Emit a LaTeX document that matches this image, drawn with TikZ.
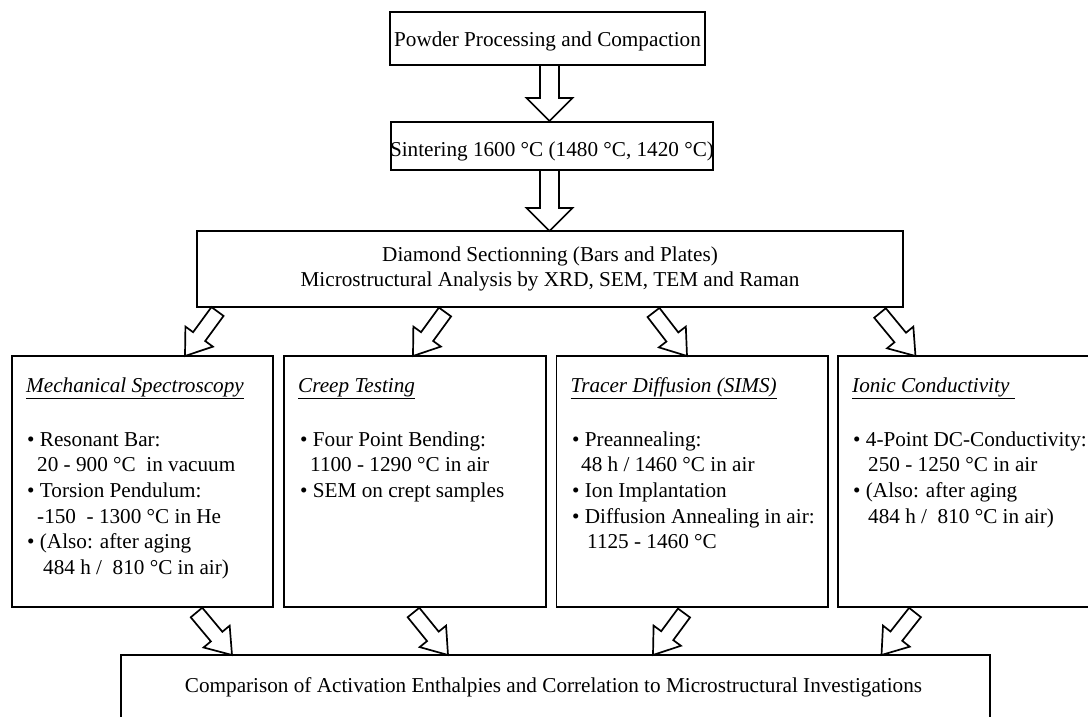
\documentclass[tikz,border=0pt]{standalone}
\usepackage{fontspec}
\setmainfont{Liberation Serif}
\usetikzlibrary{calc}
\tikzset{
  box/.style={draw, line width=1.8pt, fill=white, inner sep=0pt},
  txt/.style={anchor=base west, inner sep=0pt, font=\fontsize{21.2}{25.7}\selectfont},
  ctxt/.style={anchor=base, inner sep=0pt, font=\fontsize{21.2}{25.7}\selectfont},
  barrow/.style={draw, line width=1.7pt, fill=white, line join=miter},
}
\newcommand\blockarrow[5]{%
  \path ($(#2)!#5!(#1)$) coordinate (bah);
  \draw[barrow] ($(#1)!#3!90:(#2)$) -- ($(bah)!#3!90:(#2)$) -- ($(bah)!#4!90:(#2)$) -- (#2)
     -- ($(bah)!#4!-90:(#2)$) -- ($(bah)!#3!-90:(#2)$) -- ($(#1)!#3!-90:(#2)$) -- cycle;
}
\begin{document}
\begin{tikzpicture}[x=1pt,y=-1pt]
\useasboundingbox (0,0) rectangle (1088,717);
\clip (0,0) rectangle (1088,717);
\fill[white] (0,0) rectangle (1088,717);
% boxes
\node[box, minimum width=315pt, minimum height=53pt] (pp) at (547.5,38.5) {};
\node[box, minimum width=322pt, minimum height=48pt] (sint) at (552,146) {};
\node[box, minimum width=706pt, minimum height=76pt] (diam) at (550,269) {};
\node[box, minimum width=261pt, minimum height=251pt] (mech) at (142.5,481.5) {};
\node[box, minimum width=262pt, minimum height=251pt] (creep) at (415,481.5) {};
\node[box, minimum width=271.5pt, minimum height=251pt] (tracer) at (692.25,481.5) {};
\node[box, minimum width=262pt, minimum height=251pt] (ionic) at (969,481.5) {};
\node[box, minimum width=869pt, minimum height=80pt] (comp) at (555.5,695) {};
% centred texts
\node[ctxt] (ppt) at (547.5,46.7) {Powder Processing and Compaction};
\node[ctxt] (sintt) at (552,156) {Sintering 1600 °C (1480 °C, 1420 °C)};
\node[ctxt] (diamt1) at (550,261) {Diamond Sectionning (Bars and Plates)};
\node[ctxt] (diamt2) at (550,286.5) {Microstructural Analysis by XRD, SEM, TEM and Raman};
\node[ctxt] (compt) at (553.5,692) {Comparison of Activation Enthalpies and Correlation to Microstructural Investigations};
% mechanical spectroscopy
\node[txt] (m0) at (26,392) {\underline{\textit{Mechanical Spectroscopy}}};
\node[txt] (m1) at (27,446) {• Resonant Bar:};
\node[txt] (m2) at (37,471.7) {20 - 900 °C\ \ in vacuum};
\node[txt] (m3) at (27,497.4) {• Torsion Pendulum:};
\node[txt] (m4) at (37,523.1) {-150\ \ - 1300 °C in He};
\node[txt] (m5) at (27,548.8) {• (Also: after aging};
\node[txt] (m6) at (43,574.5) {484 h /\ \ 810 °C in air)};
% creep testing
\node[txt] (c0) at (298,392) {\underline{\textit{Creep Testing}}};
\node[txt] (c1) at (300,446) {• Four Point Bending:};
\node[txt] (c2) at (310,471.7) {1100 - 1290 °C in air};
\node[txt] (c3) at (300,497.4) {• SEM on crept samples};
% tracer diffusion
\node[txt] (t0) at (570.5,392) {\underline{\textit{Tracer Diffusion (SIMS)}}};
\node[txt] (t1) at (572,446) {• Preannealing:};
\node[txt] (t2) at (581,471.7) {48 h / 1460 °C in air};
\node[txt] (t3) at (572,497.4) {• Ion Implantation};
\node[txt] (t4) at (572,523.1) {• Diffusion Annealing in air:};
\node[txt] (t5) at (587,548.8) {1125 - 1460 °C};
% ionic conductivity
\node[txt] (i0) at (852,392) {\underline{\textit{Ionic Conductivity\ }}};
\node[txt] (i1) at (853,446) {• 4-Point DC-Conductivity:};
\node[txt] (i2) at (868,471.7) {250 - 1250 °C in air};
\node[txt] (i3) at (853,497.4) {• (Also: after aging};
\node[txt] (i4) at (868,523.1) {484 h /\ \ 810 °C in air)};
% arrow end points
\coordinate (v1s) at (549.5,65);   \coordinate (v1e) at (549.5,121);
\coordinate (v2s) at (549.5,170);  \coordinate (v2e) at (549.5,231);
\coordinate (a1s) at (217.5,311.5); \coordinate (a1e) at (185,356);
\coordinate (a2s) at (445,312);     \coordinate (a2e) at (413,356);
\coordinate (a3s) at (653.5,312.5); \coordinate (a3e) at (687,356);
\coordinate (a4s) at (880,313);     \coordinate (a4e) at (915.5,356);
\coordinate (b1s) at (196.5,612.5); \coordinate (b1e) at (232,655);
\coordinate (b2s) at (413.5,612.5); \coordinate (b2e) at (448,655);
\coordinate (b3s) at (684,613);     \coordinate (b3e) at (653,655);
\coordinate (b4s) at (915,612.5);   \coordinate (b4e) at (881.5,655);
% arrows
\blockarrow{v1s}{v1e}{9.5pt}{23pt}{23pt}
\blockarrow{v2s}{v2e}{9.5pt}{23pt}{23pt}
\blockarrow{a1s}{a1e}{7.5pt}{17pt}{24pt}
\blockarrow{a2s}{a2e}{7.5pt}{17pt}{24pt}
\blockarrow{a3s}{a3e}{7.5pt}{17pt}{24pt}
\blockarrow{a4s}{a4e}{7.5pt}{17pt}{24pt}
\blockarrow{b1s}{b1e}{7.5pt}{17pt}{24pt}
\blockarrow{b2s}{b2e}{7.5pt}{17pt}{24pt}
\blockarrow{b3s}{b3e}{7.5pt}{17pt}{24pt}
\blockarrow{b4s}{b4e}{7.5pt}{17pt}{24pt}
\end{tikzpicture}
\end{document}
